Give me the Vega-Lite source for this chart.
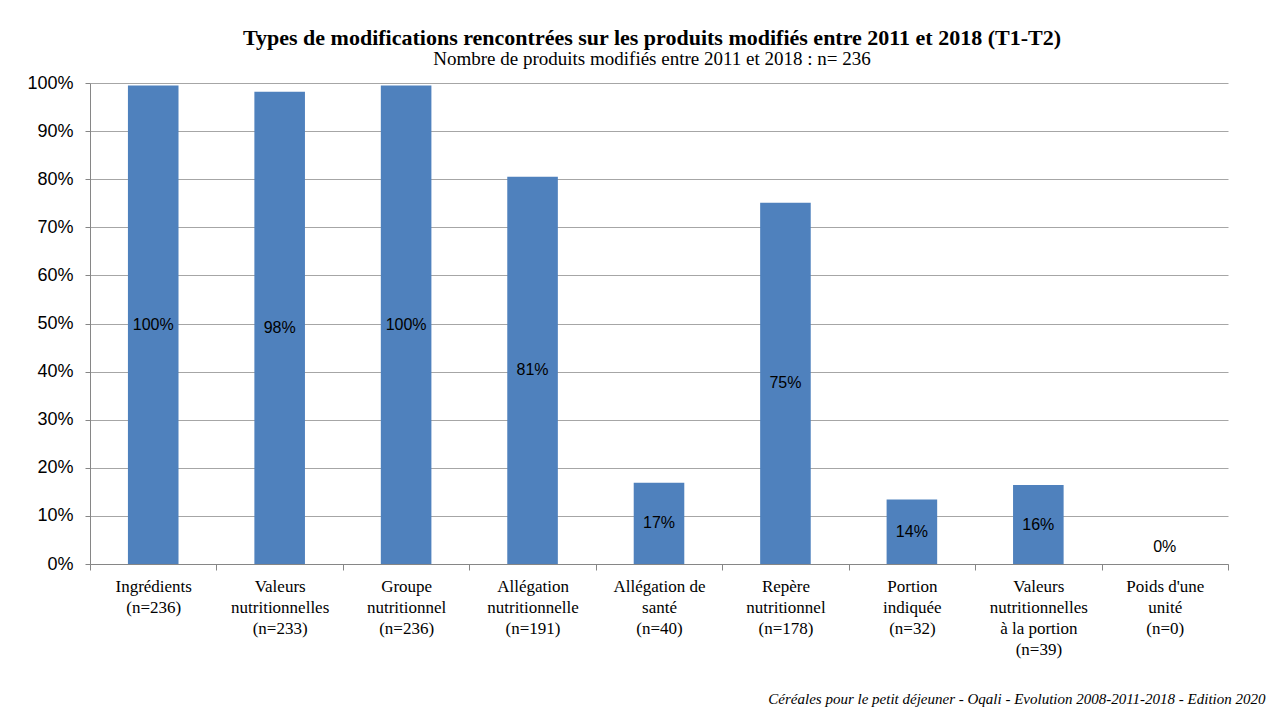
{
  "$schema": "https://vega.github.io/schema/vega-lite/v6.json",
  "width": 1138,
  "height": 481,
  "autosize": {"type": "none"},
  "padding": {"left": 90, "top": 83, "right": 57, "bottom": 146},
  "background": "white",
  "title": {
    "text": "Types de modifications rencontrées sur les produits modifiés entre 2011 et 2018 (T1-T2)",
    "subtitle": "Nombre de produits modifiés entre 2011 et 2018 : n= 236",
    "anchor": "middle",
    "dx": -7,
    "font": "Liberation Serif",
    "fontSize": 22,
    "fontWeight": "bold",
    "color": "black",
    "subtitleFont": "Liberation Serif",
    "subtitleFontSize": 19,
    "subtitleColor": "black",
    "subtitlePadding": 0,
    "offset": 4
  },
  "data": {
    "values": [
      {"cat": "Ingrédients|(n=236)", "pct": 99.5, "label": "100%"},
      {"cat": "Valeurs|nutritionnelles|(n=233)", "pct": 98.2, "label": "98%"},
      {"cat": "Groupe|nutritionnel|(n=236)", "pct": 99.5, "label": "100%"},
      {"cat": "Allégation|nutritionnelle|(n=191)", "pct": 80.5, "label": "81%"},
      {"cat": "Allégation de|santé|(n=40)", "pct": 16.9, "label": "17%"},
      {"cat": "Repère|nutritionnel|(n=178)", "pct": 75.1, "label": "75%"},
      {"cat": "Portion|indiquée|(n=32)", "pct": 13.4, "label": "14%"},
      {"cat": "Valeurs|nutritionnelles|à la portion|(n=39)", "pct": 16.4, "label": "16%"},
      {"cat": "Poids d'une|unité|(n=0)", "pct": 0, "label": "0%"}
    ]
  },
  "encoding": {
    "x": {
      "field": "cat",
      "type": "nominal",
      "sort": null,
      "scale": {"paddingInner": 0, "paddingOuter": 0},
      "axis": {
        "title": "Céréales pour le petit déjeuner - Oqali - Evolution 2008-2011-2018 - Edition 2020",
        "titleFont": "Liberation Serif",
        "titleFontStyle": "italic",
        "titleFontWeight": "normal",
        "titleFontSize": 15,
        "titleColor": "black",
        "titleAnchor": "end",
        "titleAlign": "right",
        "titleBaseline": "bottom",
        "titleX": 1175,
        "titleY": 142,
        "labelExpr": "split(datum.label, '|')",
        "labelAngle": 0,
        "labelFont": "Liberation Serif",
        "labelFontSize": 17,
        "labelLineHeight": 21,
        "labelColor": "black",
        "labelPadding": 8,
        "labelBaseline": "top",
        "tickBand": "extent",
        "tickSize": 6,
        "tickColor": "#868686",
        "domainColor": "#868686"
      }
    }
  },
  "layer": [
    {
      "mark": {"type": "bar", "color": "#4F81BD", "width": {"band": 0.4}},
      "encoding": {
        "y": {
          "field": "pct",
          "type": "quantitative",
          "scale": {"domain": [0, 100], "nice": false},
          "axis": {
            "title": null,
            "values": [0, 10, 20, 30, 40, 50, 60, 70, 80, 90, 100],
            "labelExpr": "datum.value + '%'",
            "labelFont": "Liberation Sans",
            "labelFontSize": 18,
            "labelColor": "black",
            "labelPadding": 12,
            "tickSize": 5,
            "tickColor": "#868686",
            "domainColor": "#868686",
            "gridColor": "#A6A6A6",
            "gridWidth": 1
          }
        }
      }
    },
    {
      "transform": [{"calculate": "max(datum.pct / 2, 3.5)", "as": "lpos"}],
      "mark": {"type": "text", "font": "Liberation Sans", "fontSize": 16, "color": "black", "baseline": "middle", "align": "center"},
      "encoding": {
        "y": {"field": "lpos", "type": "quantitative"},
        "text": {"field": "label"}
      }
    }
  ],
  "config": {"view": {"stroke": null}}
}
